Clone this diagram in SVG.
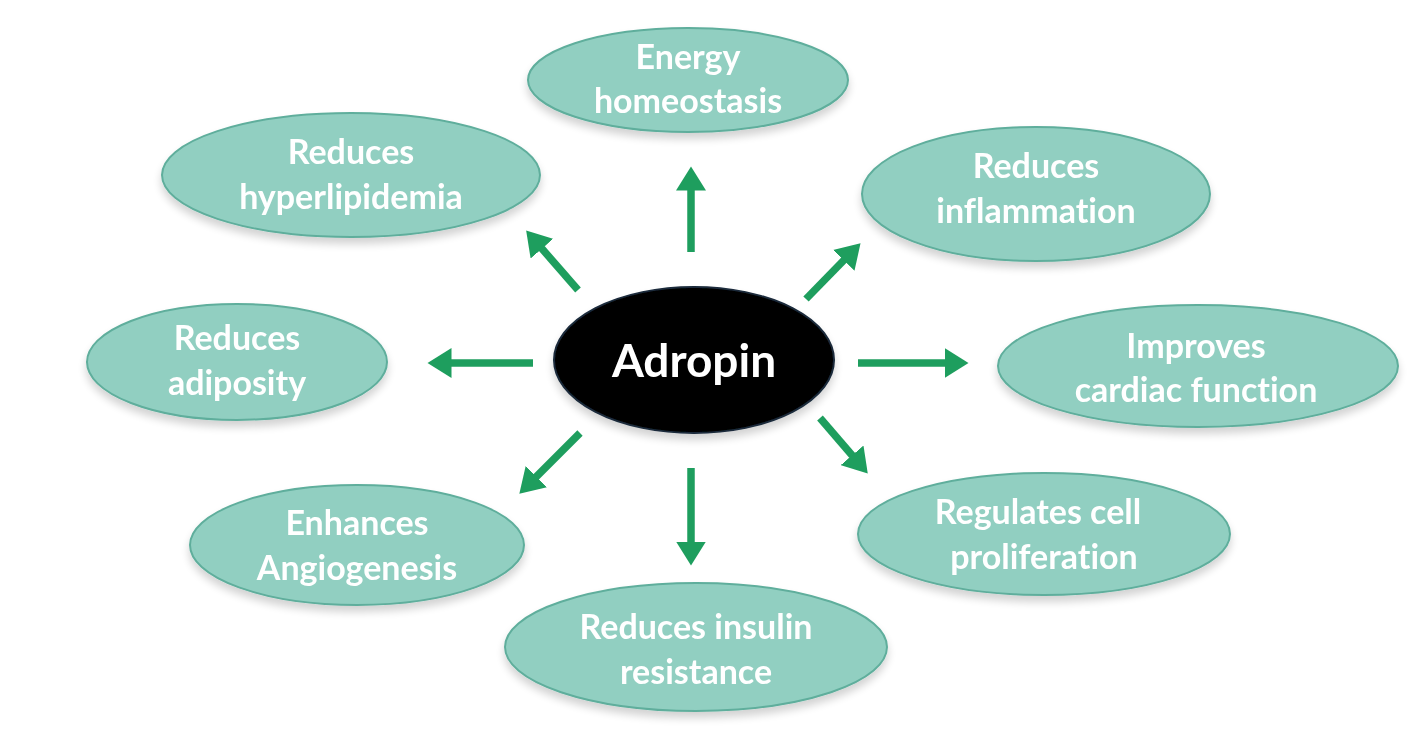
<svg xmlns="http://www.w3.org/2000/svg" width="1408" height="736" viewBox="0 0 1408 736">
<defs>
<filter id="sh" x="-10%" y="-10%" width="120%" height="130%">
<feGaussianBlur in="SourceAlpha" stdDeviation="4"/>
<feOffset dx="0" dy="6" result="b"/>
<feComponentTransfer><feFuncA type="linear" slope="0.18"/></feComponentTransfer>
<feMerge><feMergeNode/><feMergeNode in="SourceGraphic"/></feMerge>
</filter>
<marker id="ah" markerWidth="4" markerHeight="4" refX="1" refY="2" orient="auto" markerUnits="strokeWidth">
<path d="M0,0 L3.2,2 L0,4 Z" fill="#1e9e5e"/>
</marker>
</defs>
<style>
.n{fill:#91cfc1;stroke:#5fae9c;stroke-width:2}
.t{fill:#ffffff;font-family:Lato,"Open Sans",sans-serif;font-weight:bold;font-size:34px;text-anchor:middle;font-variant-ligatures:none;font-feature-settings:"liga" 0,"dlig" 0}
.c{stroke:#1e9e5e;stroke-width:7.5;fill:none;marker-end:url(#ah)}
</style>
<rect width="1408" height="736" fill="#ffffff"/>
<g id="connectors">
<line class="c" x1="691" y1="252" x2="691" y2="183"/>
<line class="c" x1="578" y1="290" x2="537" y2="243"/>
<line class="c" x1="806" y1="299" x2="849" y2="255"/>
<line class="c" x1="533" y1="363" x2="444" y2="363"/>
<line class="c" x1="858" y1="363" x2="952" y2="363"/>
<line class="c" x1="580" y1="433" x2="531" y2="482"/>
<line class="c" x1="691" y1="468" x2="691" y2="549"/>
<line class="c" x1="820" y1="418" x2="857" y2="461"/>
</g>
<g id="energy" filter="url(#sh)"><ellipse class="n" cx="688" cy="80" rx="160" ry="52"/><text class="t" x="688" y="69">Energy</text><text class="t" x="688" y="113">homeostasis</text></g>
<g id="hyperlipidemia" filter="url(#sh)"><ellipse class="n" cx="351" cy="175" rx="189" ry="62"/><text class="t" x="351" y="164">Reduces</text><text class="t" x="351" y="209">hyperlipidemia</text></g>
<g id="inflammation" filter="url(#sh)"><ellipse class="n" cx="1036" cy="194" rx="174" ry="67"/><text class="t" x="1036" y="178">Reduces</text><text class="t" x="1036" y="223">inflammation</text></g>
<g id="adiposity" filter="url(#sh)"><ellipse class="n" cx="237" cy="362" rx="150" ry="58"/><text class="t" x="237" y="350">Reduces</text><text class="t" x="237" y="395">adiposity</text></g>
<g id="cardiac" filter="url(#sh)"><ellipse class="n" cx="1198" cy="366" rx="200" ry="61"/><text class="t" x="1196" y="358">Improves</text><text class="t" x="1196" y="402">cardiac function</text></g>
<g id="angiogenesis" filter="url(#sh)"><ellipse class="n" cx="357" cy="545" rx="167" ry="60"/><text class="t" x="357" y="535">Enhances</text><text class="t" x="357" y="580">Angiogenesis</text></g>
<g id="proliferation" filter="url(#sh)"><ellipse class="n" cx="1044" cy="534" rx="186" ry="61"/><text class="t" x="1038" y="524">Regulates cell</text><text class="t" x="1044" y="569">proliferation</text></g>
<g id="insulin" filter="url(#sh)"><ellipse class="n" cx="696" cy="647" rx="191" ry="64"/><text class="t" x="696" y="639">Reduces insulin</text><text class="t" x="696" y="684">resistance</text></g>
<g id="adropin" filter="url(#sh)"><ellipse cx="694" cy="360" rx="140" ry="73" fill="#000000" stroke="#1a2a3a" stroke-width="2"/><text x="694" y="377" fill="#ffffff" font-family="Lato,'Open Sans',sans-serif" font-weight="bold" font-size="46" text-anchor="middle">Adropin</text></g>
</svg>
